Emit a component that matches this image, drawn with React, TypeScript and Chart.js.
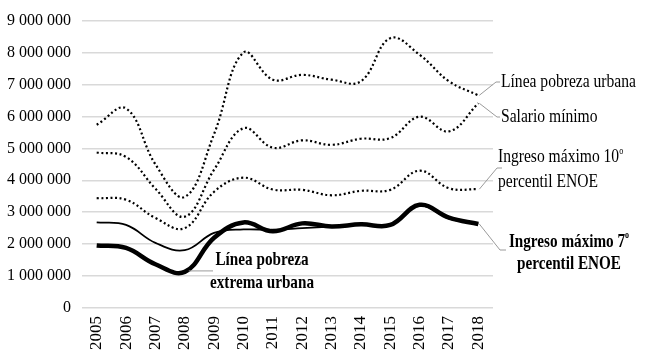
import React, { useEffect, useRef } from 'react';
import { Chart, registerables } from 'chart.js';

Chart.register(...registerables);

const years = ['2005', '2006', '2007', '2008', '2009', '2010', '2011', '2012', '2013', '2014', '2015', '2016', '2017', '2018'];

const lineaPobrezaUrbana = [5740000, 6250000, 4500000, 3480000, 5450000, 8000000, 7150000, 7300000, 7150000, 7100000, 8450000, 7930000, 7100000, 6660000];
const salarioMinimo = [4870000, 4730000, 3740000, 2860000, 4330000, 5630000, 5020000, 5250000, 5110000, 5300000, 5320000, 5990000, 5530000, 6410000];
const ingresoMax10 = [3440000, 3390000, 2820000, 2500000, 3640000, 4080000, 3710000, 3700000, 3530000, 3670000, 3700000, 4300000, 3750000, 3720000];
const lineaPobrezaExtrema = [2680000, 2600000, 2040000, 1810000, 2350000, 2460000, 2450000, 2500000, 2550000, 2600000, 2620000, 3200000, 2800000, 2640000];
const ingresoMax7 = [1960000, 1880000, 1370000, 1130000, 2200000, 2680000, 2400000, 2650000, 2550000, 2620000, 2600000, 3230000, 2830000, 2630000];

const yTicksMax = 9000000;
const yTickStep = 1000000;

const SERIF = '"Liberation Serif", "Times New Roman", Times, serif';

function fmt(v: number | string): string {
  return String(v).replace(/\B(?=(\d{3})+(?!\d))/g, ' ');
}

type Part = { text: string; sup?: boolean };

function drawLabel(
  ctx: CanvasRenderingContext2D,
  parts: Part[],
  x: number,
  y: number,
  size: number,
  bold: boolean,
  sx: number,
  align: 'left' | 'center'
) {
  ctx.save();
  ctx.translate(x, y);
  ctx.scale(sx, 1);
  ctx.textBaseline = 'middle';
  ctx.textAlign = 'left';
  ctx.fillStyle = '#000';
  const w = (p: Part) => {
    ctx.font = `${bold ? 'bold ' : ''}${p.sup ? Math.round(size * 0.55) : size}px ${SERIF}`;
    return ctx.measureText(p.text).width;
  };
  const total = parts.reduce((a, p) => a + w(p), 0);
  let cx = align === 'center' ? -total / 2 : 0;
  for (const p of parts) {
    const pw = w(p);
    ctx.font = `${bold ? 'bold ' : ''}${p.sup ? Math.round(size * 0.55) : size}px ${SERIF}`;
    ctx.fillText(p.text, cx, p.sup ? -size * 0.32 : 0);
    cx += pw;
  }
  ctx.restore();
}

function leader(ctx: CanvasRenderingContext2D, pts: number[][]) {
  ctx.save();
  ctx.strokeStyle = '#9a9a9a';
  ctx.lineWidth = 1;
  ctx.beginPath();
  ctx.moveTo(pts[0][0], pts[0][1]);
  for (let i = 1; i < pts.length; i++) ctx.lineTo(pts[i][0], pts[i][1]);
  ctx.stroke();
  ctx.restore();
}

const annotations = {
  id: 'annotations',
  afterDatasetsDraw(chart: any) {
    const ctx: CanvasRenderingContext2D = chart.ctx;
    const xs = chart.scales.x;
    const ys = chart.scales.y;
    const last = years.length - 1;
    const xe = xs.getPixelForValue(last);

    const yTop = ys.getPixelForValue(lineaPobrezaUrbana[last]);
    leader(ctx, [[xe + 1, yTop], [496, 82], [500, 82]]);
    drawLabel(ctx, [{ text: 'Línea pobreza urbana' }], 501, 82, 19, false, 0.82, 'left');

    const ySal = ys.getPixelForValue(salarioMinimo[last]);
    leader(ctx, [[xe + 1, ySal], [497, 117], [500, 117]]);
    drawLabel(ctx, [{ text: 'Salario mínimo' }], 501, 117, 19, false, 0.82, 'left');

    const y10 = ys.getPixelForValue(ingresoMax10[last]);
    leader(ctx, [[xe + 1, y10], [497, 168], [502, 168]]);
    drawLabel(ctx, [{ text: 'Ingreso máximo 10' }, { text: 'o', sup: true }], 498, 157, 19, false, 0.82, 'left');
    drawLabel(ctx, [{ text: 'percentil ENOE' }], 498, 182, 19, false, 0.82, 'left');

    const y7 = ys.getPixelForValue(ingresoMax7[last]);
    leader(ctx, [[xe + 1, y7], [500, 250], [506, 250]]);
    drawLabel(ctx, [{ text: 'Ingreso máximo 7' }, { text: 'o', sup: true }], 569, 242, 19, true, 0.8, 'center');
    drawLabel(ctx, [{ text: 'percentil ENOE' }], 569, 264, 19, true, 0.8, 'center');

    const x08 = xs.getPixelForValue(3);
    const y08 = ys.getPixelForValue(ingresoMax7[3]);
    leader(ctx, [[x08 + 4, y08 - 1], [213, y08 - 1]]);
    drawLabel(ctx, [{ text: 'Línea pobreza' }], 262, 260, 19, true, 0.8, 'center');
    drawLabel(ctx, [{ text: 'extrema urbana' }], 262, 283, 19, true, 0.8, 'center');
  },
};

export default function App() {
  const ref = useRef<HTMLCanvasElement | null>(null);

  useEffect(() => {
    if (!ref.current) return;
    const dotted = { borderDash: [2, 2.6], borderWidth: 2.2, borderCapStyle: 'butt' as const };
    const chart = new Chart(ref.current, {
      type: 'line',
      data: {
        labels: years,
        datasets: [
          { label: 'Ingreso máximo 7º percentil ENOE', data: ingresoMax7, borderColor: '#000', borderWidth: 4.5 },
          { label: 'Línea pobreza extrema urbana', data: lineaPobrezaExtrema, borderColor: '#000', borderWidth: 1.8 },
          { label: 'Ingreso máximo 10º percentil ENOE', data: ingresoMax10, borderColor: '#000', ...dotted },
          { label: 'Salario mínimo', data: salarioMinimo, borderColor: '#000', ...dotted },
          { label: 'Línea pobreza urbana', data: lineaPobrezaUrbana, borderColor: '#000', ...dotted },
        ],
      },
      options: {
        animation: false,
        responsive: true,
        maintainAspectRatio: false,
        layout: { padding: { top: 17, right: 157, left: 0, bottom: 0 } },
        elements: { point: { radius: 0 }, line: { tension: 0.4, fill: false } },
        plugins: { legend: { display: false }, tooltip: { enabled: false } },
        scales: {
          x: {
            offset: true,
            grid: { display: false, drawTicks: false },
            border: { display: false },
            ticks: {
              minRotation: 90,
              maxRotation: 90,
              padding: 8,
              color: '#000',
              font: { family: SERIF, size: 17 },
            },
            afterFit: (s: any) => {
              s.height = 56;
            },
          },
          y: {
            min: 0,
            max: yTicksMax,
            ticks: {
              stepSize: yTickStep,
              padding: 11,
              color: '#000',
              font: { family: SERIF, size: 16 },
              callback: (v: any) => fmt(v),
            },
            grid: { color: '#d9d9d9', lineWidth: 1.5, drawTicks: false },
            border: { display: false },
            afterFit: (s: any) => {
              s.width = 82;
            },
          },
        },
      },
      plugins: [annotations],
    });
    return () => chart.destroy();
  }, []);

  return (
    <div style={{ position: 'fixed', left: 0, top: 0, width: 650, height: 364, background: '#fff' }}>
      <canvas ref={ref} />
    </div>
  );
}
